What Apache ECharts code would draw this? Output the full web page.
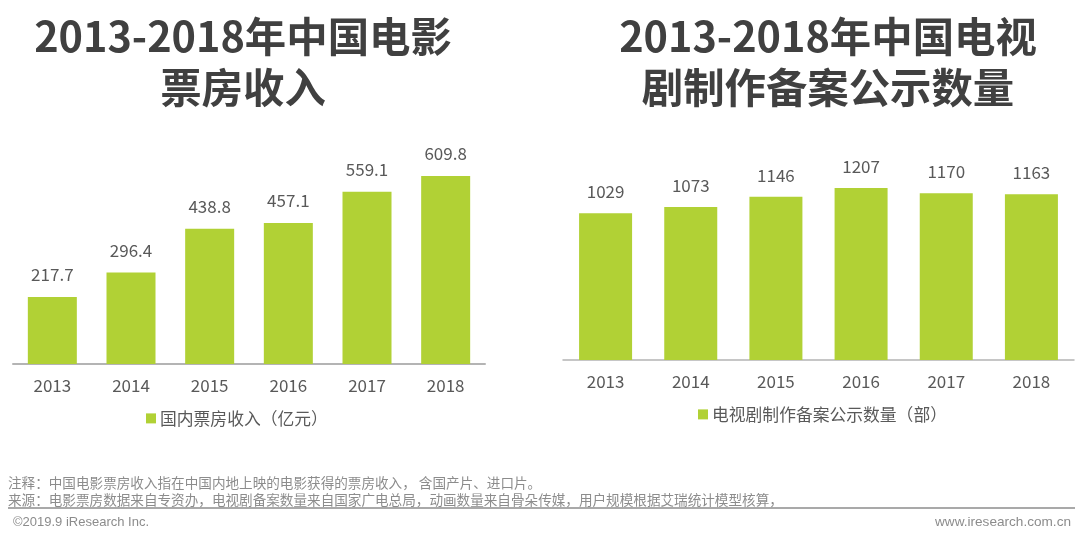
<!DOCTYPE html>
<html>
<head>
<meta charset="utf-8" />
<title>2013-2018年中国电影票房收入与电视剧制作备案公示数量</title>
<script src="https://cdn.jsdelivr.net/npm/echarts@6/dist/echarts.min.js"></script>
<style>
    html, body { margin: 0; padding: 0; background: #fff; }
    #main { width: 1080px; height: 544px; }
</style>
</head>
<body>
<div id="main"></div>
<script type="text/javascript">
    var years = ['2013', '2014', '2015', '2016', '2017', '2018'];
    var boxOffice = [217.7, 296.4, 438.8, 457.1, 559.1, 609.8];
    var dramas = [1029, 1073, 1146, 1207, 1170, 1163];
    var boxOfficeName = '国内票房收入（亿元）';
    var dramasName = '电视剧制作备案公示数量（部）';
    var noteText = '注释：中国电影票房收入指在中国内地上映的电影获得的票房收入， 含国产片、进口片。';
    var sourceText = '来源：电影票房数据来自专资办，电视剧备案数量来自国家广电总局，动画数量来自骨朵传媒，用户规模根据艾瑞统计模型核算，';

    var font = '"Noto Sans CJK SC", "Noto Sans", sans-serif';
    var green = '#b1d135';

    function barSeries(name, data, index, width, gap) {
        return {
            name: name,
            type: 'bar',
            xAxisIndex: index,
            yAxisIndex: index,
            barWidth: width,
            data: data,
            itemStyle: { color: green },
            label: {
                show: true,
                position: 'top',
                distance: gap,
                fontFamily: font,
                fontSize: 17,
                color: '#595959'
            }
        };
    }
    function xAxis(index) {
        return {
            type: 'category',
            gridIndex: index,
            data: years,
            axisTick: { show: false },
            axisLine: { lineStyle: { color: '#b4b4b4', width: index === 0 ? 2 : 1.5 } },
            axisLabel: { margin: 13, fontFamily: font, fontSize: 17, color: '#595959' }
        };
    }
    function yAxis(index, max) {
        return { type: 'value', gridIndex: index, min: 0, max: max, show: false };
    }
    function legend(name, left, top) {
        return {
            data: [name],
            left: left,
            top: top,
            itemWidth: 10,
            itemHeight: 10,
            itemGap: 4,
            icon: 'rect',
            textStyle: { fontFamily: font, fontSize: 16.8, color: '#595959', padding: [0, 0, 0, -1] }
        };
    }
    function heading(text, center) {
        return {
            text: text,
            left: center,
            top: 6,
            textAlign: 'center',
            textStyle: {
                fontFamily: font,
                fontSize: 41.4,
                fontWeight: 'bold',
                color: '#404040',
                lineHeight: 51
            }
        };
    }

    var myChart = echarts.init(document.getElementById('main'));
    var option = {
        animation: false,
        backgroundColor: '#fff',
        title: [
            heading('2013-2018年中国电影\n票房收入', 238),
            heading('2013-2018年中国电视\n剧制作备案公示数量', 823)
        ],
        legend: [
            legend(boxOfficeName, 141, 405),
            legend(dramasName, 693, 401)
        ],
        grid: [
            { left: 13, top: 130, width: 472, height: 234 },
            { left: 563, top: 130, width: 511, height: 230 }
        ],
        xAxis: [xAxis(0), xAxis(1)],
        yAxis: [yAxis(0, 759), yAxis(1, 1614)],
        series: [
            barSeries(boxOfficeName, boxOffice, 0, 49, 14),
            barSeries(dramasName, dramas, 1, 53, 13)
        ],
        graphic: [
            { type: 'line', shape: { x1: 8, y1: 508, x2: 1075, y2: 508 }, style: { stroke: '#8c8c8c', lineWidth: 1.5 } },
            { type: 'text', left: 8, top: 476, style: { text: noteText, font: '13.6px ' + font, fill: '#8c8c8c' } },
            { type: 'text', left: 8, top: 493, style: { text: sourceText, font: '13.6px ' + font, fill: '#8c8c8c' } },
            { type: 'text', left: 13, top: 516, style: { text: '©2019.9 iResearch Inc.', font: '13px "Liberation Sans", sans-serif', fill: '#8c8c8c' } },
            { type: 'text', right: 9, top: 515, style: { text: 'www.iresearch.com.cn', font: '13.6px "Liberation Sans", sans-serif', fill: '#8c8c8c' } }
        ]
    };
    myChart.setOption(option);
</script>
</body>
</html>
